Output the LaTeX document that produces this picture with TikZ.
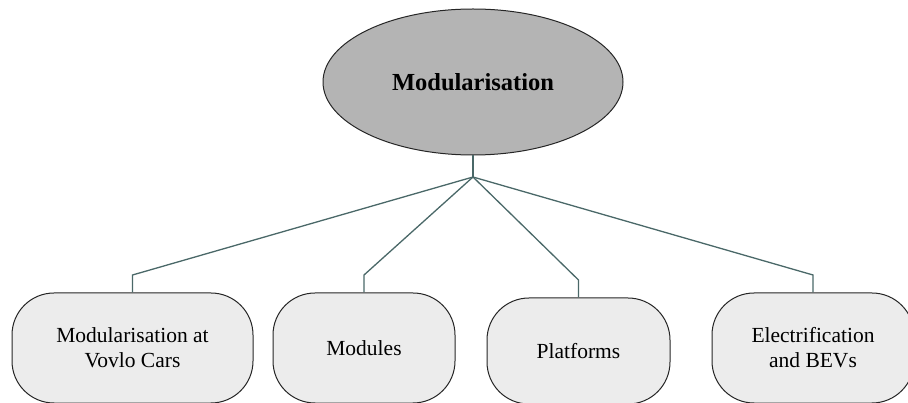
\documentclass[tikz,border=0pt]{standalone}
\usepackage{fontspec}
\setmainfont{Liberation Serif}
\usetikzlibrary{shapes.geometric}
\definecolor{linkcol}{HTML}{4A6868}
\definecolor{rootfill}{HTML}{B4B4B4}
\definecolor{leaffill}{HTML}{ECECEC}
\tikzset{
  rootnode/.style={ellipse, draw=black!85, line width=1pt, fill=rootfill,
    minimum width=300pt, minimum height=146pt, inner sep=0pt,
    font=\fontsize{24.5}{28}\selectfont\bfseries},
  leafnode/.style={rectangle, rounded corners=42pt, draw=black!85, line width=1pt,
    fill=leaffill, inner sep=0pt, align=center,
    font=\fontsize{21.5}{25}\selectfont},
  link/.style={draw=linkcol, line width=1.3pt}
}
\begin{document}
\begin{tikzpicture}[x=1pt, y=-1pt]
  \useasboundingbox (0,0) rectangle (908,403);
  \begin{scope}
    \clip (0,0) rectangle (908,403);
    % root
    \node[rootnode] (root) at (473,82) {Modularisation};
    % leaves
    \node[leafnode, minimum width=241pt, minimum height=110pt] (m1) at (132.5,348) {Modularisation at\\Vovlo Cars};
    \node[leafnode, minimum width=182pt, minimum height=110pt] (m2) at (364,348) {Modules};
    \node[leafnode, minimum width=183pt, minimum height=106pt] (m3) at (578.5,351) {Platforms};
    \node[leafnode, minimum width=202pt, minimum height=110pt] (m4) at (813,348) {Electrification\\and BEVs};
    % junction and bends
    \coordinate (j) at (473,177);
    \coordinate (k1) at (132.5,275);
    \coordinate (k2) at (364,275);
    \coordinate (k3) at (578.5,280);
    \coordinate (k4) at (813,275);
    \draw[link] (root.south) -- (j);
    \draw[link] (j) -- (k1) -- (m1.north);
    \draw[link] (j) -- (k2) -- (m2.north);
    \draw[link] (j) -- (k3) -- (m3.north);
    \draw[link] (j) -- (k4) -- (m4.north);
  \end{scope}
\end{tikzpicture}
\end{document}
